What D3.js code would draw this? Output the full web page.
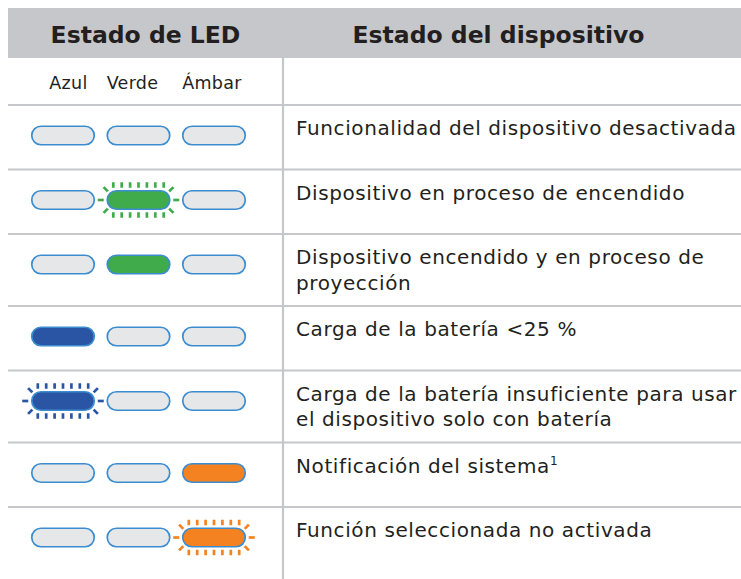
<!DOCTYPE html>
<html><head><meta charset="utf-8">
<script src="https://cdn.jsdelivr.net/npm/d3@7/dist/d3.min.js"></script>
<style>
html,body{margin:0;padding:0;background:#fff;}
svg{display:block;font-family:"DejaVu Sans",Verdana,sans-serif;}
</style></head>
<body>
<svg id="chart" width="741" height="579"></svg>
<script>
// ---- data ----
const headers = ["Estado de LED", "Estado del dispositivo"];
const ledNames = ["Azul", "Verde", "Ámbar"];
const ledColors = ["#2a55a5", "#3fab4a", "#f58220"];
const blueStates  = ["off", "off", "off", "on", "blink", "off", "off"];
const greenStates = ["off", "blink", "on", "off", "off", "off", "off"];
const amberStates = ["off", "off", "off", "off", "off", "on", "blink"];
const descriptions = [
  ["Funcionalidad del dispositivo desactivada"],
  ["Dispositivo en proceso de encendido"],
  ["Dispositivo encendido y en proceso de", "proyección"],
  ["Carga de la batería <25 %"],
  ["Carga de la batería insuficiente para usar", "el dispositivo solo con batería"],
  ["Notificación del sistema|1"],
  ["Función seleccionada no activada"]
];

// ---- layout ----
const W = 741, H = 579;
const left = 8, divX = 283;
const headTop = 8, headBottom = 58, firstRowTop = 105;
const gridColor = "#c6c7cb", textColor = "#231f20";
const offFill = "#e6e7e8", outline = "#3b8dd0";

const svg = d3.select("#chart");

// row tops computed from line counts
const rowH = d => d.length > 1 ? 72 : 64.5;
const tops = [];
let acc = firstRowTop;
descriptions.forEach(d => { tops.push(acc); acc += rowH(d); });

// x scale for LED columns
const x = d3.scalePoint().domain(ledNames).range([63, 214]);

// header band
svg.append("rect").attr("x", left).attr("y", headTop).attr("width", W - left).attr("height", headBottom - headTop).attr("fill", gridColor);
svg.append("text").attr("x", 145.5).attr("y", 42.5).attr("text-anchor", "middle")
  .attr("font-weight", "bold").attr("font-size", 23.5).attr("fill", textColor).text(headers[0]);
svg.append("text").attr("x", 498.5).attr("y", 42.5).attr("text-anchor", "middle")
  .attr("font-weight", "bold").attr("font-size", 23.5).attr("fill", textColor).text(headers[1]);

// LED name row
const nameX = [68.5, 132.5, 212];
svg.selectAll("text.ledname").data(ledNames).join("text").attr("class", "ledname")
  .attr("x", (d, i) => nameX[i]).attr("y", 89).attr("text-anchor", "middle")
  .attr("font-size", 17.5).attr("letter-spacing", 0.3).attr("fill", textColor).text(d => d);

// grid lines
svg.selectAll("line.h").data(tops).join("line").attr("class", "h")
  .attr("x1", left).attr("x2", W).attr("y1", d => d).attr("y2", d => d)
  .attr("stroke", gridColor).attr("stroke-width", 2.2);
svg.append("line").attr("x1", divX).attr("x2", divX).attr("y1", headBottom).attr("y2", H)
  .attr("stroke", gridColor).attr("stroke-width", 2.2);

// LEDs
const pw = 62.5, ph = 18.5, r = ph / 2;
const stateCols = [blueStates, greenStates, amberStates];
const leds = [];
tops.forEach((t, ri) => {
  ledNames.forEach((n, ci) => {
    leds.push({ cx: x(n), cy: t + 30.5, state: stateCols[ci][ri], color: ledColors[ci] });
  });
});

const g = svg.append("g");
leds.forEach(l => {
  if (l.state === "blink") {
    const rays = [];
    for (let i = -3; i <= 3; i++) {
      const tx = l.cx + i * 8.4;
      rays.push([tx, l.cy - r - 8.5, tx, l.cy - r - 3]);
      rays.push([tx, l.cy + r + 3, tx, l.cy + r + 8.5]);
    }
    const hw = pw / 2;
    rays.push([l.cx - hw - 9.5, l.cy, l.cx - hw - 3.5, l.cy]);
    rays.push([l.cx + hw + 3.5, l.cy, l.cx + hw + 9.5, l.cy]);
    const capL = l.cx - hw + r, capR = l.cx + hw - r;
    [[capL, -1, -1], [capL, -1, 1], [capR, 1, -1], [capR, 1, 1]].forEach(([c, sx, sy]) => {
      const a = Math.SQRT1_2;
      rays.push([c + sx * a * (r + 3), l.cy + sy * a * (r + 3), c + sx * a * (r + 9), l.cy + sy * a * (r + 9)]);
    });
    g.selectAll(null).data(rays).join("line")
      .attr("x1", d => d[0]).attr("y1", d => d[1]).attr("x2", d => d[2]).attr("y2", d => d[3])
      .attr("stroke", l.color).attr("stroke-width", 2.7);
  }
  g.append("rect").attr("x", l.cx - pw / 2).attr("y", l.cy - ph / 2)
    .attr("width", pw).attr("height", ph).attr("rx", r).attr("ry", r)
    .attr("fill", l.state === "off" ? offFill : l.color)
    .attr("stroke", outline).attr("stroke-width", 1.7);
});

// descriptions
descriptions.forEach((lines, ri) => {
  lines.forEach((line, li) => {
    const t = svg.append("text").attr("x", 296).attr("y", tops[ri] + 30 + li * 25.5)
      .attr("font-size", 20).attr("letter-spacing", 0.6).attr("fill", textColor);
    const parts = line.split("|");
    t.append("tspan").text(parts[0]);
    if (parts[1]) t.append("tspan").attr("dy", -8).attr("font-size", 12).text(parts[1]);
  });
});
</script>
</body></html>
